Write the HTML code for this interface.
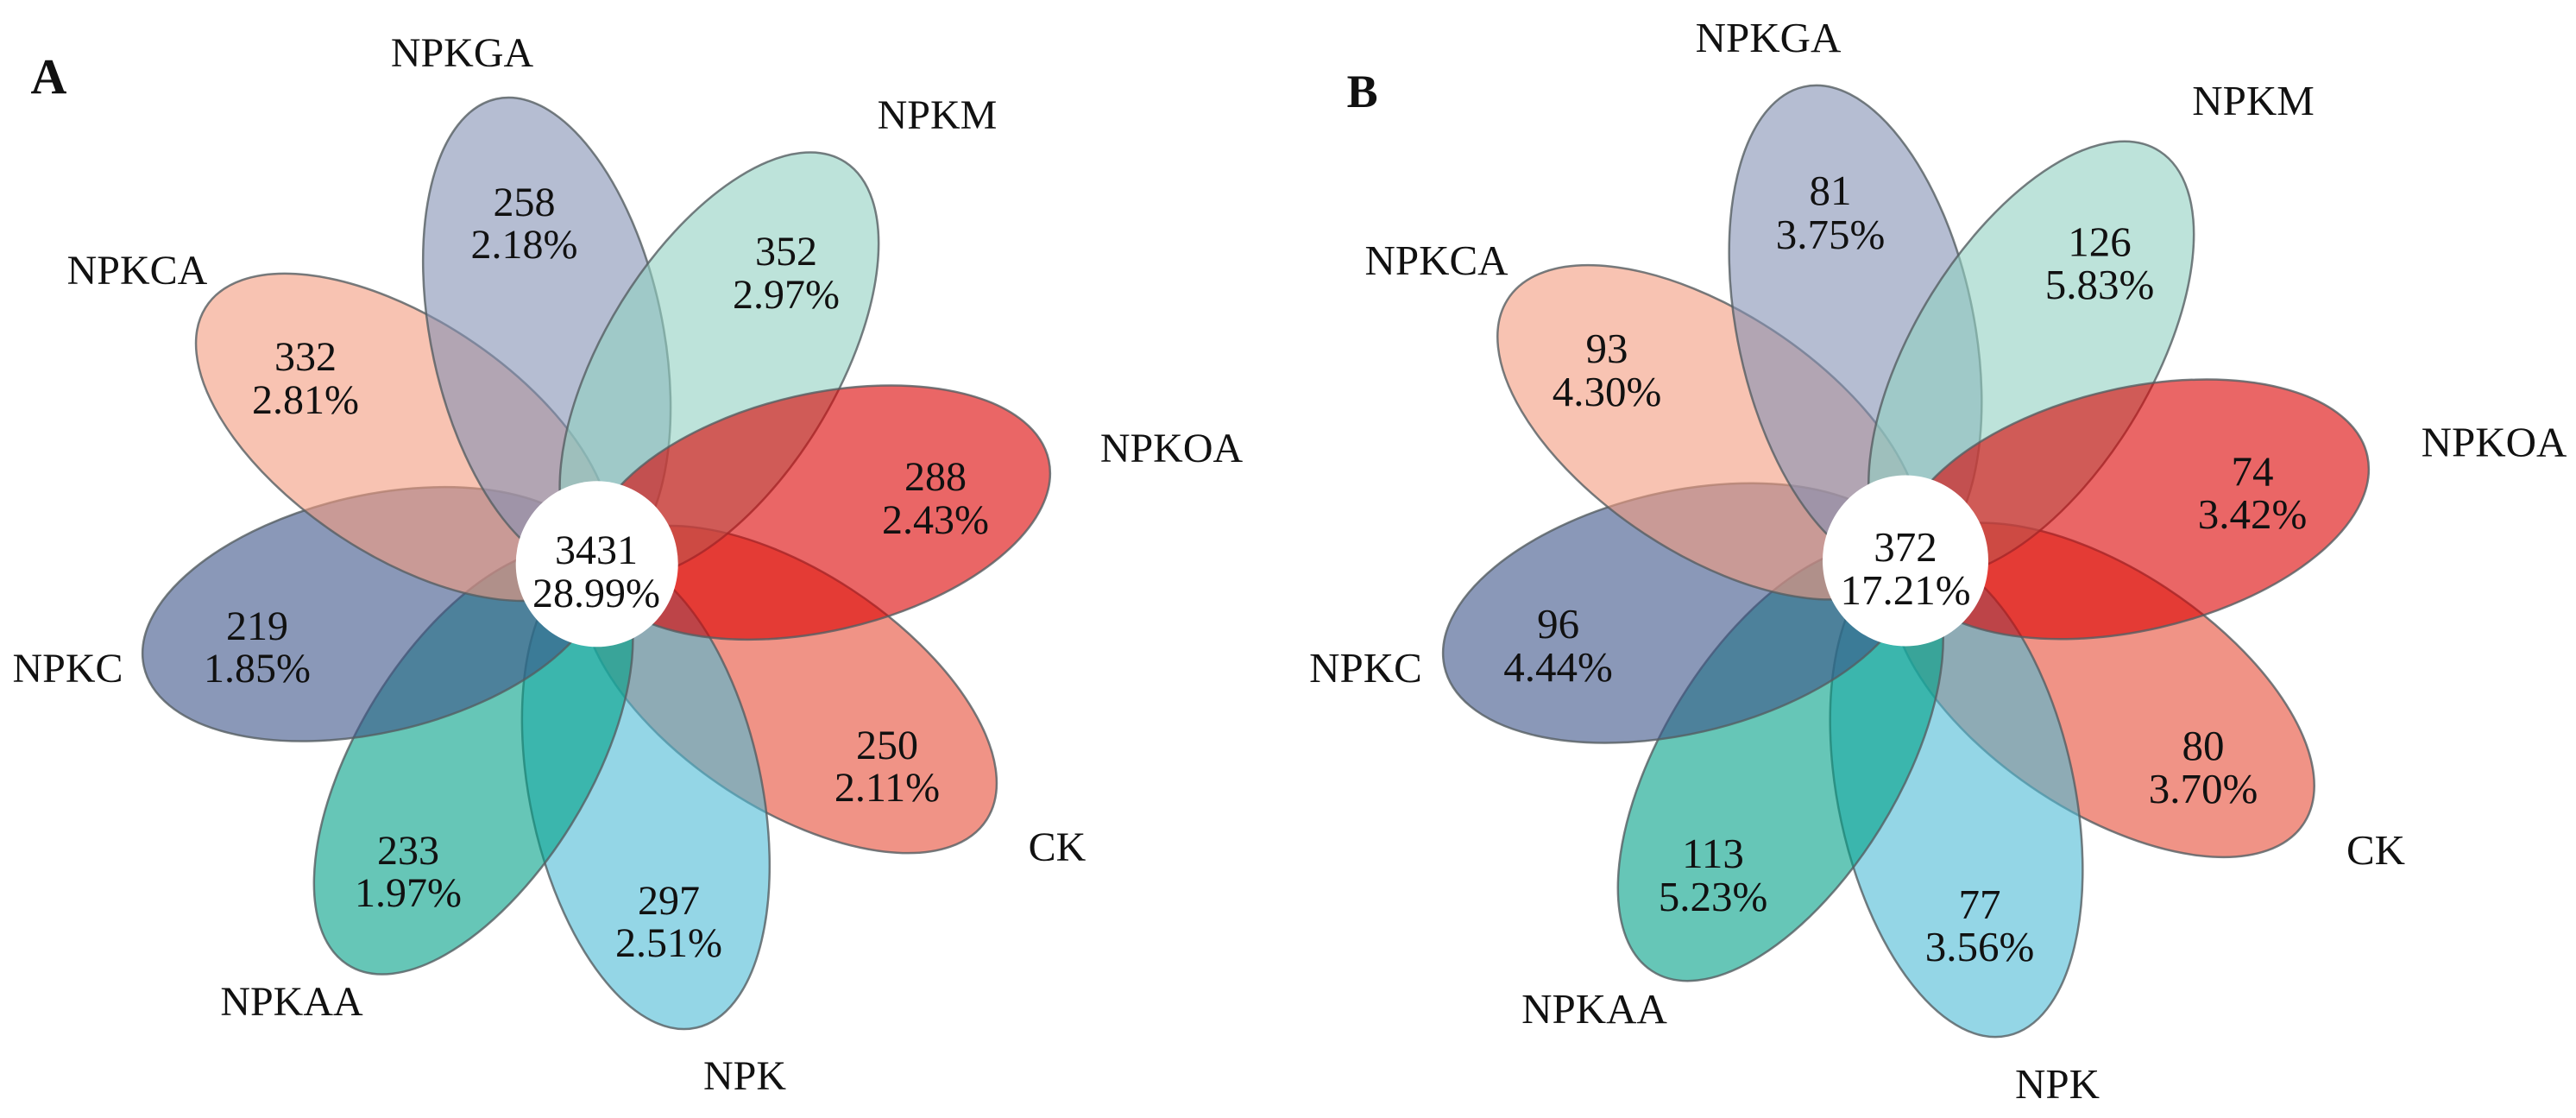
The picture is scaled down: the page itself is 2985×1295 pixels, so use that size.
<!DOCTYPE html>
<html lang="en">
<head>
<meta charset="utf-8">
<title>Flower Venn diagrams A and B</title>
<style>
html,body{margin:0;padding:0;background:#fff;width:2985px;height:1295px;overflow:hidden}
svg{display:block;font-family:"Liberation Serif",serif;fill:#111}
</style>
</head>
<body>
<svg id="chart" xmlns="http://www.w3.org/2000/svg" width="2985" height="1295" viewBox="0 0 2985 1295"></svg>
<script>
// Data (draw order, bottom to top)
const sets = ['CK', 'NPK', 'NPKAA', 'NPKC', 'NPKCA', 'NPKGA', 'NPKM', 'NPKOA'];
const countsA = [250, 297, 233, 219, 332, 258, 352, 288];
const percentsA = ['2.11%', '2.51%', '1.97%', '1.85%', '2.81%', '2.18%', '2.97%', '2.43%'];
const coreCountA = 3431;
const corePercentA = '28.99%';
const countsB = [80, 77, 113, 96, 93, 81, 126, 74];
const percentsB = ['3.70%', '3.56%', '5.23%', '4.44%', '4.30%', '3.75%', '5.83%', '3.42%'];
const coreCountB = 372;
const corePercentB = '17.21%';
const colours = ['#E64B35', '#4DBBD5', '#00A087', '#3C5488', '#F39B7F', '#8491B4', '#91D1C2', '#DC0000'];

// Layout (not data): petal geometry and text anchors per panel
const petalAngleStart = 32.5;
const petalAngleStep = 45;
const petalOffset = 265;
const petalA = 272;
const petalB = 134;
const panels = [
  {id:'a', letter:'A', letterPos:[56.5,108], letterSize:58, cx:691, cy:652.5, sx:1, sy:1.026,
   coreC:[691.7,653.3], coreR:[94,96], fs:48, counts:countsA, percents:percentsA,
   coreCount:coreCountA, corePercent:corePercentA, coreText:[691,653,703],
   valuePos:[[1028,879,928],[775,1059,1108],[473,1001,1050],[298,741,790],[354,429,479],[607.5,250,299],[911,307,357],[1084,568,618]],
   labelPos:[[1225,997],[863,1262],[338,1176],[78.5,790],[159,329],[535.5,77],[1086,149],[1357.5,535]]},
  {id:'b', letter:'B', letterPos:[1578.7,124], letterSize:54, cx:2208.5, cy:650, sx:1.02, sy:1.048,
   coreC:[2208,649.5], coreR:[96,99], fs:49, counts:countsB, percents:percentsB,
   coreCount:coreCountB, corePercent:corePercentB, coreText:[2208,650,700],
   valuePos:[[2553,880,930],[2294,1064,1113],[1985,1005,1055],[1805.6,739,789],[1862,420,470],[2121,237,288],[2433,296.5,346],[2610,562.5,612]],
   labelPos:[[2753,1001],[2384,1272],[1847.5,1185],[1582.5,790],[1664.5,318],[2049,60],[2611,133],[2890,528.6]]}
];

const NS = 'http://www.w3.org/2000/svg';
const root = document.getElementById('chart');

function petalAngle(i) { return petalAngleStart + petalAngleStep * i; }
function kebab(s) { return s.toLowerCase(); }

function addText(parent, str, x, y, size, name, bold) {
  const t = document.createElementNS(NS, 'text');
  t.setAttribute('x', x);
  t.setAttribute('y', y);
  t.setAttribute('font-size', size);
  t.setAttribute('text-anchor', 'middle');
  if (bold) t.setAttribute('font-weight', 'bold');
  
  
  t.textContent = str;
  parent.appendChild(t);
  return t;
}

panels.forEach(function (p) {
  const g = document.createElementNS(NS, 'g');
  
  
  root.appendChild(g);

  sets.forEach(function (set, i) {
    const e = document.createElementNS(NS, 'ellipse');
    e.setAttribute('cx', petalOffset);
    e.setAttribute('cy', 0);
    e.setAttribute('rx', petalA);
    e.setAttribute('ry', petalB);
    e.setAttribute('transform', 'translate(' + p.cx + ' ' + p.cy + ') scale(' + p.sx + ' ' + p.sy + ') rotate(' + petalAngle(i) + ')');
    e.setAttribute('fill', colours[i]);
    e.setAttribute('fill-opacity', '0.6');
    e.setAttribute('stroke', '#555e61');
    e.setAttribute('stroke-opacity', '0.8');
    e.setAttribute('stroke-width', '2.5');
    e.setAttribute('vector-effect', 'non-scaling-stroke');
    
    
    g.appendChild(e);
  });

  const core = document.createElementNS(NS, 'ellipse');
  core.setAttribute('cx', p.coreC[0]);
  core.setAttribute('cy', p.coreC[1]);
  core.setAttribute('rx', p.coreR[0]);
  core.setAttribute('ry', p.coreR[1]);
  core.setAttribute('fill', '#fff');
  
  
  g.appendChild(core);

  sets.forEach(function (set, i) {
    const v = p.valuePos[i];
    addText(g, String(p.counts[i]), v[0], v[1], p.fs, 'count-' + p.id + '-' + kebab(set), false);
    addText(g, p.percents[i], v[0], v[2], p.fs, 'percent-' + p.id + '-' + kebab(set), false);
    const l = p.labelPos[i];
    addText(g, set, l[0], l[1], p.fs, 'set-label-' + p.id + '-' + kebab(set), false);
  });

  addText(g, String(p.coreCount), p.coreText[0], p.coreText[1], p.fs, 'core-count-' + p.id, false);
  addText(g, p.corePercent, p.coreText[0], p.coreText[2], p.fs, 'core-percent-' + p.id, false);
  addText(g, p.letter, p.letterPos[0], p.letterPos[1], p.letterSize, 'panel-letter-' + p.id, true);
});
</script>
</body>
</html>
